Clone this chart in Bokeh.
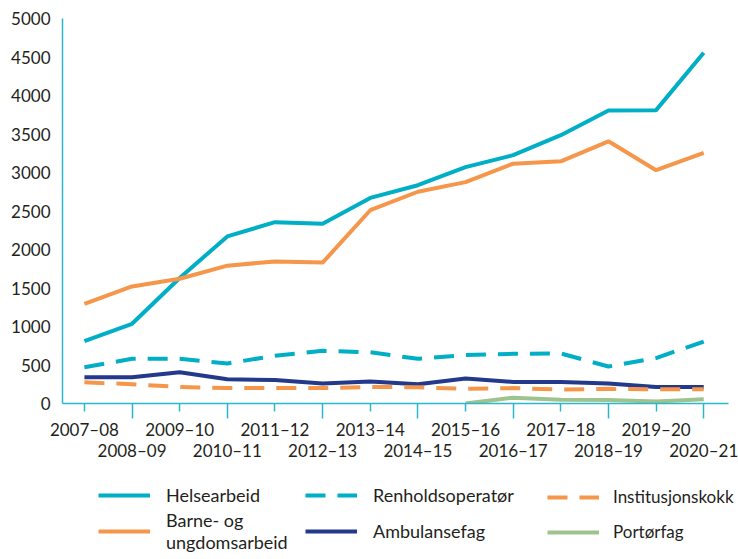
from bokeh.plotting import figure
from bokeh.models import Range1d, FixedTicker, LinearAxis, Legend, LegendItem
from bokeh.layouts import column
from bokeh.embed import file_html
from bokeh.resources import INLINE

seasons = ["2007–08", "2008–09", "2009–10", "2010–11", "2011–12", "2012–13", "2013–14",
           "2014–15", "2015–16", "2016–17", "2017–18", "2018–19", "2019–20", "2020–21"]
x = list(range(len(seasons)))

helsearbeid = [810, 1035, 1630, 2170, 2355, 2335, 2670, 2835, 3070, 3225, 3485, 3805, 3810, 4555]
barne_ungdom = [1295, 1520, 1620, 1790, 1845, 1830, 2510, 2750, 2875, 3115, 3145, 3405, 3030, 3255]
renhold = [470, 580, 580, 520, 620, 685, 665, 580, 630, 645, 650, 480, 590, 805]
ambulanse = [340, 340, 405, 315, 305, 260, 285, 250, 325, 280, 280, 260, 215, 215]
institusjon = [275, 250, 215, 200, 200, 200, 215, 210, 190, 200, 180, 190, 185, 185]
portor_x = [8, 9, 10, 11, 12, 13]
portor = [0, 75, 50, 45, 25, 55]

y_ticks = list(range(0, 5001, 500))

TEAL = "#00aec6"
ORANGE = "#f5964a"
NAVY = "#23398b"
GREEN = "#9fc38f"
AXIS = "#2ab6cb"
TEXT = "#231f20"
FONT = "Lato"
W = 4
DASH = "20 12"

series = {
    "helse": (x, helsearbeid, dict(line_color=TEAL, line_width=W)),
    "barne": (x, barne_ungdom, dict(line_color=ORANGE, line_width=W)),
    "renh": (x, renhold, dict(line_color=TEAL, line_width=W, line_dash=DASH)),
    "amb": (x, ambulanse, dict(line_color=NAVY, line_width=W)),
    "inst": (x, institusjon, dict(line_color=ORANGE, line_width=W, line_dash=DASH)),
    "port": (portor_x, portor, dict(line_color=GREEN, line_width=W)),
}

PX_PER_STEP = 47.64
X0 = -0.46
X_AXIS_END = 13.52
p = figure(width=738, height=463, output_backend="svg", toolbar_location=None,
           x_range=Range1d(X0, X0 + (738 - 62) / PX_PER_STEP), y_range=Range1d(0, 5000),
           min_border_left=62, min_border_top=18, min_border_right=0, min_border_bottom=60)
p.outline_line_color = None
p.xgrid.visible = False
p.ygrid.visible = False

for k, (xs, ys, st) in series.items():
    p.line(xs, ys, **st)

# y axis
ya = p.yaxis[0]
ya.ticker = FixedTicker(ticks=y_ticks)
ya.major_tick_out = 0
ya.major_tick_in = 0
ya.minor_tick_line_color = None
ya.axis_line_color = AXIS
ya.axis_line_width = 1.5
ya.major_label_standoff = 12
ya.major_label_text_font = FONT
ya.major_label_text_font_size = "17px"
ya.major_label_text_color = TEXT

# x axis, first row of labels
xa = p.xaxis[0]
even = [i for i in x if i % 2 == 0]
odd = [i for i in x if i % 2 == 1]
xa.ticker = FixedTicker(ticks=even, minor_ticks=odd)
xa.major_label_overrides = {i: seasons[i] for i in even}
xa.bounds = (X0, X_AXIS_END)
xa.axis_line_color = AXIS
xa.axis_line_width = 1.5
xa.major_tick_line_color = AXIS
xa.major_tick_line_width = 1.5
xa.major_tick_out = 8
xa.major_tick_in = 0
xa.minor_tick_line_color = AXIS
xa.minor_tick_line_width = 1.5
xa.minor_tick_out = 15
xa.minor_tick_in = 0
xa.major_label_standoff = 0
xa.major_label_text_font = FONT
xa.major_label_text_font_size = "17px"
xa.major_label_text_color = TEXT

# second row of labels
xa2 = LinearAxis(ticker=FixedTicker(ticks=odd),
                 major_label_overrides={i: seasons[i] for i in odd})
xa2.axis_line_color = None
xa2.major_tick_line_color = None
xa2.minor_tick_line_color = None
xa2.major_tick_out = 0
xa2.major_tick_in = 0
xa2.major_label_standoff = -3
xa2.major_label_text_font = FONT
xa2.major_label_text_font_size = "17px"
xa2.major_label_text_color = TEXT
p.add_layout(xa2, "below")

# legend panel (its frame is aligned with the chart frame: x from 62 to 738)
lp = figure(width=738, height=96, output_backend="svg", toolbar_location=None,
            x_range=Range1d(0, 1), y_range=Range1d(-2, -1),
            min_border_left=0, min_border_right=0, min_border_top=0, min_border_bottom=0)
lp.outline_line_color = None
lp.axis.visible = False
lp.grid.visible = False
lr = {k: lp.line(xs, ys, **st) for k, (xs, ys, st) in series.items()}


def make_legend(items, loc, spacing, size="18px", standoff=16):
    lg = Legend(items=items, location=loc, orientation="vertical",
                border_line_color=None, background_fill_alpha=0,
                padding=0, margin=0, spacing=spacing,
                glyph_width=52, glyph_height=20, label_height=20,
                label_standoff=standoff,
                label_text_font=FONT, label_text_font_size=size,
                label_text_color=TEXT)
    lp.add_layout(lg)
    return lg


make_legend([LegendItem(label="Helsearbeid", renderers=[lr["helse"]]),
             LegendItem(label="Barne- og\nungdomsarbeid", renderers=[lr["barne"]])],
            (98 - 62, 6), 3)
make_legend([LegendItem(label="Renholdsoperatør", renderers=[lr["renh"]]),
             LegendItem(label="Ambulansefag", renderers=[lr["amb"]])],
            (305 - 62, 17), 14)
make_legend([LegendItem(label="Institusjonskokk", renderers=[lr["inst"]]),
             LegendItem(label="Portørfag", renderers=[lr["port"]])],
            (547 - 62, 17), 14, size="17px", standoff=14)

open("out.html", "w").write(file_html(column(p, lp), INLINE))
